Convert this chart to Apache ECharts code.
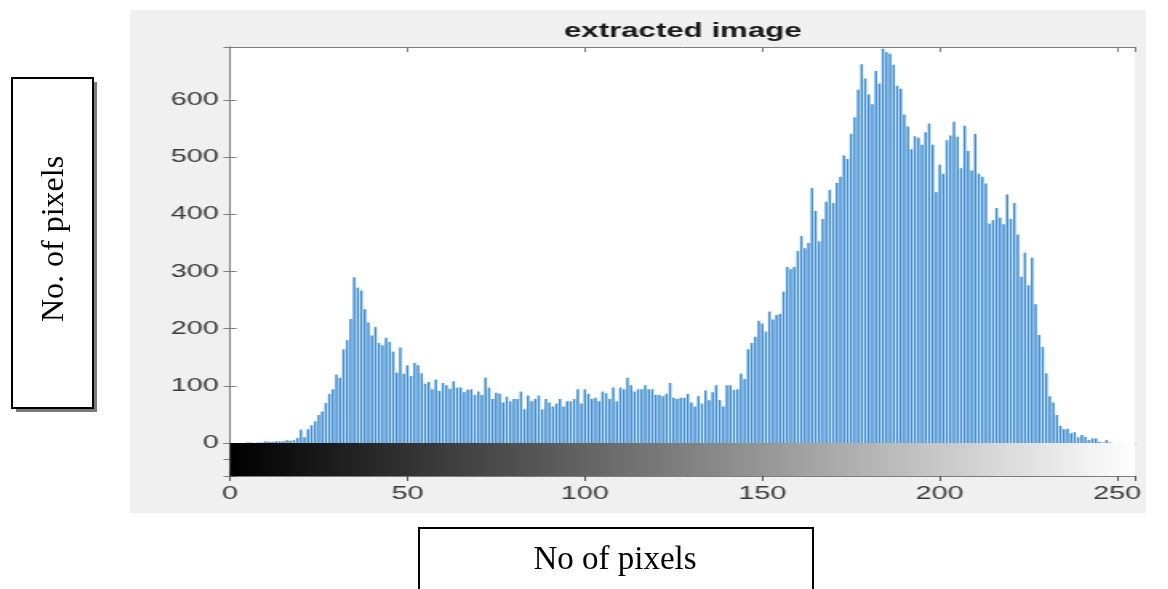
<!DOCTYPE html>
<html>
<head>
<meta charset="utf-8">
<script src="https://cdn.jsdelivr.net/npm/echarts@6/dist/echarts.min.js"></script>
<style>
html,body{margin:0;padding:0;background:#fff;width:1168px;height:589px;overflow:hidden;position:relative;}
#fig{position:absolute;left:130px;top:10px;width:635px;height:503px;transform:scaleX(1.6);transform-origin:0 0;}
#overlay{position:absolute;left:0;top:0;width:1168px;height:589px;pointer-events:none;}
</style>
</head>
<body>
<div id="fig"></div>
<div id="overlay"></div>
<script>
// ---- data ----
const titleText = 'extracted image';
const yAxisNote = 'No. of pixels';
const xAxisNote = 'No of pixels';
const xTickStep = 50;
const yTickStep = 100;
const counts = [
  0,0,0,0,0,1,1,0,1,1,          // 0-9
  3,2,2,3,3,3,5,4,5,9,          // 10-19
  23,10,24,31,38,49,55,70,86,94,// 20-29
  120,114,164,180,217,290,272,267,234,211, // 30-39
  188,203,175,171,184,177,160,123,167,121, // 40-49
  136,117,140,136,122,104,107,94,111,91,   // 50-59
  105,101,95,108,97,97,89,93,94,84,        // 60-69
  90,84,114,97,77,88,86,71,81,73,          // 70-79
  77,77,90,59,83,73,77,83,59,77,           // 80-89
  71,64,69,77,64,73,73,77,94,69,           // 90-99
  94,86,77,79,73,90,87,77,97,73,           // 100-109
  97,94,114,101,90,94,94,101,94,94,        // 110-119
  84,84,82,86,105,79,77,79,79,86,          // 120-129
  71,64,82,69,92,75,89,101,75,64,          // 130-139
  101,101,93,94,121,112,164,175,186,214,   // 140-149
  209,195,230,216,224,226,265,308,304,308, // 150-159
  336,362,341,350,446,406,353,392,422,443, // 160-169
  420,455,466,503,497,541,570,618,663,638, // 170-179
  610,593,651,629,690,684,681,662,625,620, // 180-189
  575,554,514,537,534,522,544,559,522,439, // 190-199
  487,471,530,538,562,536,481,555,511,477, // 200-209
  541,471,466,454,384,390,411,394,383,435, // 210-219
  392,420,365,291,333,276,324,243,189,168, // 220-229
  122,82,71,49,30,24,25,17,19,10,          // 230-239
  14,11,5,8,8,2,1,5,1,0,                   // 240-249
  0,0,0,0,0,0                              // 250-255
];
const grayLevels = counts.map((c, i) => i);
const histData = grayLevels.map((g, i) => [g, counts[i]]);
const xMin = 0, xMax = 255, yMin = 0, yMax = 693;

// ---- figure (horizontally stretched like the reference) ----
const fig = echarts.init(document.getElementById('fig'));
const axisCol = '#7d7d7d';
const labelCol = '#3a3a3a';
const fontFam = '"Liberation Sans", Arial, Helvetica, sans-serif';
const gridL = 62.5, gridR = 6.875;
fig.setOption({
  backgroundColor: '#f0f0f0',
  animation: false,
  title: {
    text: titleText, left: 340.5, top: 7, textAlign: 'center',
    textStyle: {fontSize: 19.5, fontWeight: 'bold', color: '#1a1a1a', fontFamily: fontFam}
  },
  grid: [
    {left: gridL, right: gridR, top: 37, height: 396, show: true, backgroundColor: '#ffffff', borderWidth: 0},
    {left: gridL, right: gridR, top: 433, height: 33, show: false, borderWidth: 0}
  ],
  xAxis: [
    {gridIndex: 0, type: 'value', position: 'bottom', min: xMin, max: xMax, interval: xTickStep,
     axisLine: {show: true, onZero: false, lineStyle: {color: axisCol, width: 1}},
     axisTick: {show: false}, axisLabel: {show: false}, splitLine: {show: false}},
    {gridIndex: 0, type: 'value', position: 'top', min: xMin, max: xMax, interval: xTickStep,
     axisLine: {show: true, onZero: false, lineStyle: {color: axisCol, width: 1}},
     axisTick: {show: true, inside: true, length: 5, lineStyle: {color: axisCol}},
     axisLabel: {show: false}, splitLine: {show: false}},
    {gridIndex: 1, type: 'value', position: 'bottom', min: xMin, max: xMax, interval: xTickStep,
     axisLine: {show: true, onZero: false, lineStyle: {color: axisCol, width: 1}},
     axisTick: {show: true, inside: true, length: 5, lineStyle: {color: '#555'}},
     axisLabel: {show: true, margin: 9, fontSize: 18, color: labelCol, fontFamily: fontFam, showMaxLabel: false},
     splitLine: {show: false}},
    {gridIndex: 1, type: 'value', position: 'top', min: xMin, max: xMax, interval: xTickStep,
     axisLine: {show: false},
     axisTick: {show: true, inside: true, length: 5, lineStyle: {color: '#555'}},
     axisLabel: {show: false}, splitLine: {show: false}}
  ],
  yAxis: [
    {gridIndex: 0, type: 'value', position: 'left', min: yMin, max: yMax, interval: yTickStep,
     axisLine: {show: true, lineStyle: {color: axisCol, width: 1}},
     axisTick: {show: true, inside: true, length: 4, lineStyle: {color: axisCol}},
     axisLabel: {show: true, margin: 7, fontSize: 18, color: labelCol, fontFamily: fontFam, showMaxLabel: false},
     splitLine: {show: false}},
    {gridIndex: 0, type: 'value', position: 'right', min: yMin, max: yMax, interval: yTickStep,
     axisLine: {show: true, lineStyle: {color: axisCol, width: 1}},
     axisTick: {show: true, inside: true, length: 4, lineStyle: {color: axisCol}},
     axisLabel: {show: false}, splitLine: {show: false}},
    {gridIndex: 1, type: 'value', position: 'left', min: 0, max: 2, interval: 1,
     axisLine: {show: true, lineStyle: {color: axisCol, width: 1}},
     axisTick: {show: true, inside: true, length: 4, lineStyle: {color: '#555'}},
     axisLabel: {show: false}, splitLine: {show: false}},
    {gridIndex: 1, type: 'value', position: 'right', min: 0, max: 2, interval: 1,
     axisLine: {show: true, lineStyle: {color: axisCol, width: 1}},
     axisTick: {show: true, inside: true, length: 4, lineStyle: {color: axisCol}},
     axisLabel: {show: false}, splitLine: {show: false}}
  ],
  series: [
    {type: 'bar', xAxisIndex: 0, yAxisIndex: 0, data: histData, barWidth: 1.5,
     itemStyle: {color: '#3a8bd0'}, silent: true, z: 2},
    {type: 'custom', xAxisIndex: 2, yAxisIndex: 2, data: [[xMin, xMax]], silent: true, z: 1,
     renderItem: function (params, api) {
       const p0 = api.coord([api.value(0), 2]);
       const p1 = api.coord([api.value(1), 0]);
       return {
         type: 'rect',
         shape: {x: p0[0], y: p0[1], width: p1[0] - p0[0], height: p1[1] - p0[1]},
         style: {fill: new echarts.graphic.LinearGradient(0, 0, 1, 0, [
           {offset: 0, color: '#000000'}, {offset: 1, color: '#ffffff'}])}
       };
     }}
  ]
});

// ---- overlay annotation boxes (not stretched) ----
const ov = echarts.init(document.getElementById('overlay'));
ov.setOption({
  backgroundColor: 'transparent',
  animation: false,
  graphic: [
    {type: 'rect', shape: {x: 16, y: 82, width: 81, height: 330}, style: {fill: '#7a7a7a'}, z: 1},
    {type: 'rect', shape: {x: 12, y: 78, width: 81, height: 330}, style: {fill: '#ffffff', stroke: '#000', lineWidth: 2}, z: 2},
    {type: 'text', x: 55, y: 239, rotation: Math.PI / 2, z: 3,
     style: {text: yAxisNote, fontSize: 32, fontFamily: '"Liberation Serif", "Times New Roman", serif',
             fill: '#000', align: 'center', verticalAlign: 'middle'}},
    {type: 'rect', shape: {x: 419, y: 528, width: 394, height: 80}, style: {fill: '#ffffff', stroke: '#000', lineWidth: 2}, z: 2},
    {type: 'text', x: 615, y: 560, z: 3,
     style: {text: xAxisNote, fontSize: 33, fontFamily: '"Liberation Serif", "Times New Roman", serif',
             fill: '#000', align: 'center', verticalAlign: 'middle'}}
  ]
});
</script>
</body>
</html>
